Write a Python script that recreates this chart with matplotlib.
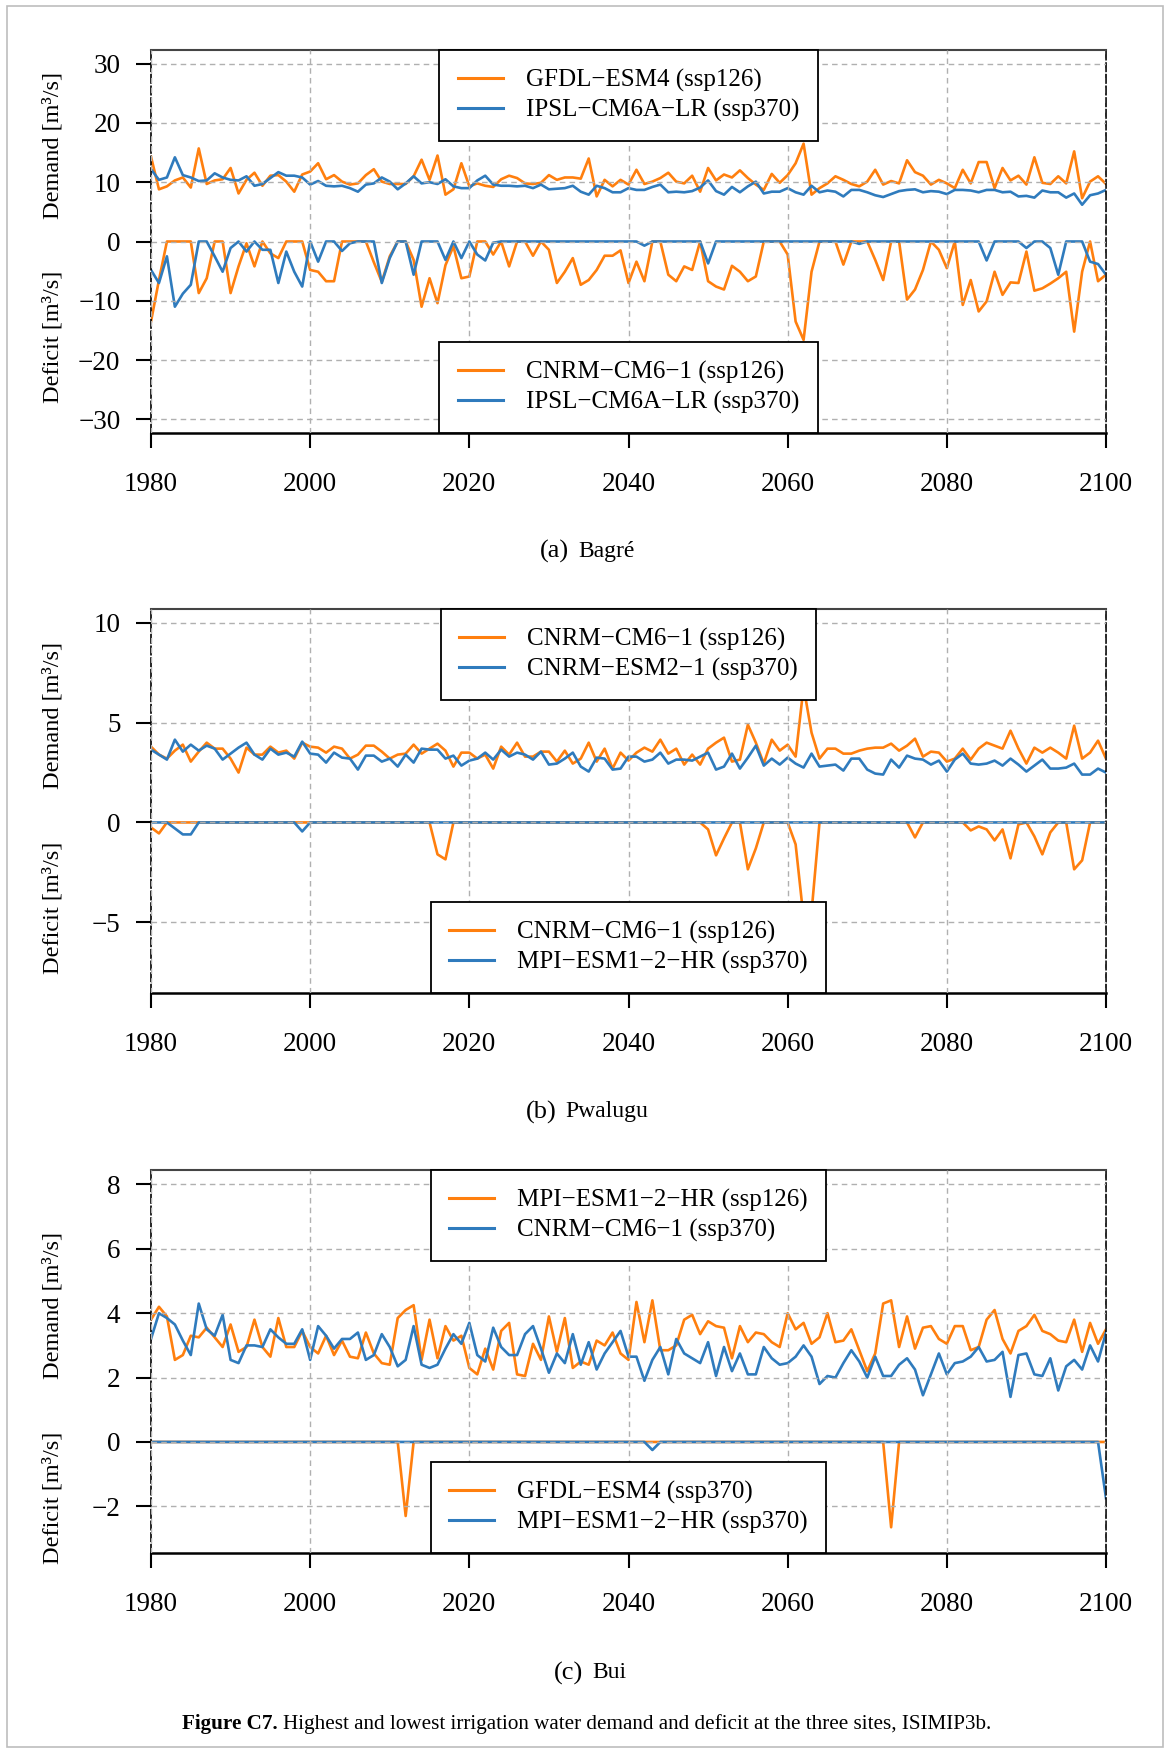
import matplotlib
matplotlib.use("Agg")
import matplotlib.pyplot as plt
import numpy as np
from matplotlib.transforms import blended_transform_factory
from matplotlib.lines import Line2D
from matplotlib.patches import Rectangle

plt.rcParams['font.family'] = ['Liberation Serif', 'DejaVu Serif']

years = np.arange(1980, 2101)

# (a) Bagre
bagre_dem_hi = [14.3, 8.8, 9.3, 10.3, 10.8, 9.1, 15.7, 9.7, 10.3, 10.5,
                12.4, 8.1, 10.4, 11.6, 9.4, 11.1, 11.2, 10.1, 8.4, 11.3,
                11.8, 13.2, 10.5, 11.2, 10.1, 9.6, 9.8, 11.2, 12.2, 10.1,
                9.7, 9.7, 9.7, 11.0, 13.8, 10.4, 14.5, 7.9, 8.8, 13.2,
                9.3, 9.8, 9.4, 9.2, 10.5, 11.1, 10.7, 9.8, 9.7, 9.9,
                11.2, 10.4, 10.8, 10.8, 10.6, 14.0, 7.6, 10.4, 9.3, 10.4,
                9.6, 12.1, 9.7, 10.1, 10.7, 11.6, 10.1, 9.8, 11.1, 8.4,
                12.4, 10.3, 11.3, 10.8, 12.0, 10.7, 9.6, 8.7, 11.4, 9.9,
                11.2, 13.2, 16.5, 7.9, 9.0, 9.8, 11.0, 10.4, 9.7, 9.3,
                10.1, 12.1, 9.6, 10.2, 9.8, 13.7, 11.7, 11.1, 9.6, 10.4,
                9.8, 9.0, 12.1, 9.8, 13.4, 13.4, 9.0, 12.4, 10.3, 11.1,
                9.6, 14.2, 9.9, 9.7, 11.0, 9.8, 15.2, 7.3, 10.1, 11.0,
                9.7]
bagre_dem_lo = [12.2, 10.4, 10.8, 14.2, 11.2, 10.8, 10.2, 10.3, 11.5, 10.8,
                10.4, 10.3, 11.0, 9.4, 9.7, 10.7, 11.7, 11.1, 11.1, 10.8,
                9.6, 10.2, 9.4, 9.3, 9.4, 9.0, 8.4, 9.6, 9.8, 10.8,
                10.1, 8.8, 9.8, 11.0, 9.8, 10.0, 9.7, 10.5, 9.3, 9.0,
                9.0, 10.3, 11.1, 9.6, 9.4, 9.4, 9.3, 9.4, 9.0, 9.6,
                8.8, 8.9, 9.0, 9.4, 8.4, 7.9, 9.4, 9.0, 8.3, 8.3,
                9.0, 8.7, 8.7, 9.2, 9.6, 8.3, 8.4, 8.3, 8.5, 9.1,
                10.3, 8.5, 7.9, 9.2, 8.3, 9.3, 10.1, 8.1, 8.4, 8.4,
                9.0, 8.3, 7.9, 9.4, 8.3, 8.6, 8.4, 7.6, 8.7, 8.7,
                8.3, 7.8, 7.5, 8.0, 8.5, 8.7, 8.8, 8.3, 8.5, 8.4,
                8.0, 8.7, 8.7, 8.6, 8.3, 8.7, 8.7, 8.3, 8.4, 7.6,
                7.7, 7.4, 8.6, 8.3, 8.3, 7.4, 8.1, 6.2, 7.8, 8.1,
                8.7]
bagre_def_hi = [-13.5, -6.5, 0, 0, 0, 0, -8.7, -6.2, 0, 0,
                -8.7, -4.2, -0.3, -4.2, 0, -2.0, -2.8, 0, 0, 0,
                -4.8, -5.1, -6.7, -6.7, 0, 0, 0, 0, -3.5, -6.8,
                -2.5, 0, 0, -3.1, -11.0, -6.2, -10.4, -4.0, -0.8, -6.2,
                -5.9, 0, 0, -2.2, 0, -4.2, 0, 0, -2.4, 0,
                -1.4, -7.0, -5.1, -2.8, -7.3, -6.5, -4.8, -2.4, -2.4, -1.5,
                -7.0, -3.4, -6.7, 0, 0, -5.6, -6.7, -4.2, -4.8, 0,
                -6.7, -7.6, -8.1, -4.1, -5.1, -6.7, -5.9, 0, 0, 0,
                -2.2, -13.5, -16.6, -5.1, 0, 0, 0, -3.9, 0, 0,
                0, -3.1, -6.5, 0, 0, -9.8, -8.1, -4.8, 0, -1.4,
                -4.5, 0, -10.7, -6.5, -11.8, -10.1, -5.1, -9.0, -6.9, -7.0,
                -1.7, -8.3, -7.9, -7.1, -6.2, -5.1, -15.2, -5.1, 0, -6.7,
                -5.6]
bagre_def_lo = [-4.8, -7.0, -2.5, -11.0, -8.8, -7.3, 0, 0, -2.5, -5.1,
                -1.1, 0, -1.7, 0, -1.4, -1.4, -7.0, -1.7, -5.1, -7.6,
                0, -3.4, 0, 0, -1.6, -0.3, 0, 0, 0, -7.0,
                -2.8, 0, 0, -5.6, 0, 0, 0, -3.1, 0, -2.8,
                0, -2.2, -3.2, -0.2, 0, 0, 0, 0, 0, 0,
                0, 0, 0, 0, 0, 0, 0, 0, 0, 0,
                0, 0, -0.7, 0, 0, 0, 0, 0, 0, 0,
                -3.7, 0, 0, 0, 0, 0, 0, 0, 0, 0,
                0, 0, 0, 0, 0, 0, 0, 0, 0, -0.4,
                0, 0, 0, 0, 0, 0, 0, 0, 0, 0,
                0, 0, 0, 0, 0, -3.2, 0, 0, 0, 0,
                -1.1, 0, 0, -1.1, -5.6, 0, 0, 0, -3.4, -3.8,
                -5.6]

# (b) Pwalugu
pwal_dem_hi = [3.8, 3.4, 3.2, 3.6, 3.9, 3.05, 3.55, 4.0, 3.7, 3.7,
               3.2, 2.5, 3.75, 3.4, 3.4, 3.8, 3.5, 3.6, 3.2, 4.0,
               3.8, 3.75, 3.5, 3.8, 3.7, 3.2, 3.4, 3.85, 3.85, 3.55,
               3.2, 3.4, 3.45, 3.9, 3.45, 3.7, 3.95, 3.6, 2.8, 3.5,
               3.5, 3.2, 3.4, 2.7, 3.8, 3.4, 4.0, 3.3, 3.3, 3.55,
               3.55, 3.05, 3.6, 2.95, 3.2, 4.0, 3.05, 3.7, 2.7, 3.5,
               3.1, 3.5, 3.75, 3.55, 4.15, 3.45, 3.7, 2.9, 3.4, 2.9,
               3.7, 4.0, 4.25, 3.05, 3.15, 4.9, 4.0, 2.95, 4.15, 3.6,
               3.9, 3.3, 6.8, 4.5, 3.2, 3.7, 3.7, 3.45, 3.45, 3.6,
               3.7, 3.75, 3.75, 3.95, 3.6, 3.85, 4.2, 3.3, 3.55, 3.5,
               3.05, 3.2, 3.7, 3.15, 3.7, 4.0, 3.85, 3.7, 4.6, 3.7,
               2.95, 3.75, 3.5, 3.75, 3.5, 3.2, 4.85, 3.2, 3.5, 4.1,
               3.2]
pwal_dem_lo = [3.65, 3.4, 3.15, 4.15, 3.55, 3.9, 3.6, 3.85, 3.7, 3.15,
               3.45, 3.75, 4.0, 3.4, 3.15, 3.7, 3.4, 3.5, 3.3, 4.05,
               3.45, 3.4, 3.0, 3.5, 3.25, 3.2, 2.65, 3.35, 3.35, 3.05,
               3.2, 2.8, 3.4, 3.0, 3.7, 3.65, 3.65, 3.2, 3.35, 2.85,
               3.1, 3.2, 3.5, 3.15, 3.65, 3.3, 3.5, 3.4, 3.15, 3.55,
               2.9, 2.95, 3.2, 3.5, 2.8, 2.55, 3.25, 3.2, 2.65, 2.7,
               3.3, 3.3, 3.05, 3.15, 3.5, 2.95, 3.15, 3.15, 3.1, 3.3,
               3.5, 2.65, 2.8, 3.45, 2.7, 3.25, 3.85, 2.85, 3.2, 2.9,
               3.25, 2.95, 2.75, 3.45, 2.8, 2.85, 2.9, 2.6, 3.2, 3.2,
               2.65, 2.45, 2.4, 3.15, 2.75, 3.35, 3.2, 3.15, 2.9, 3.1,
               2.55, 3.15, 3.45, 2.95, 2.9, 2.95, 3.1, 2.85, 3.2, 2.9,
               2.55, 2.85, 3.15, 2.7, 2.7, 2.75, 2.95, 2.4, 2.4, 2.7,
               2.5]
pwal_def_hi = [-0.25, -0.55, 0, 0, 0, 0, 0, 0, 0, 0,
               0, 0, 0, 0, 0, 0, 0, 0, 0, 0,
               0, 0, 0, 0, 0, 0, 0, 0, 0, 0,
               0, 0, 0, 0, 0, 0, -1.6, -1.85, 0, 0,
               0, 0, 0, 0, 0, 0, 0, 0, 0, 0,
               0, 0, 0, 0, 0, 0, 0, 0, 0, 0,
               0, 0, 0, 0, 0, 0, 0, 0, 0, 0,
               -0.35, -1.65, -0.8, 0, 0, -2.35, -1.3, 0, 0, 0,
               0, -1.1, -4.8, -4.5, 0, 0, 0, 0, 0, 0,
               0, 0, 0, 0, 0, 0, -0.75, 0, 0, 0,
               0, 0, 0, -0.4, -0.2, -0.35, -0.9, -0.35, -1.8, -0.1,
               0, -0.7, -1.6, -0.5, 0, 0, -2.35, -1.9, 0, 0,
               0]
pwal_def_lo = [0, 0, 0, -0.3, -0.6, -0.6, 0, 0, 0, 0,
               0, 0, 0, 0, 0, 0, 0, 0, 0, -0.45,
               0, 0, 0, 0, 0, 0, 0, 0, 0, 0,
               0, 0, 0, 0, 0, 0, 0, 0, 0, 0,
               0, 0, 0, 0, 0, 0, 0, 0, 0, 0,
               0, 0, 0, 0, 0, 0, 0, 0, 0, 0,
               0, 0, 0, 0, 0, 0, 0, 0, 0, 0,
               0, 0, 0, 0, 0, 0, 0, 0, 0, 0,
               0, 0, 0, 0, 0, 0, 0, 0, 0, 0,
               0, 0, 0, 0, 0, 0, 0, 0, 0, 0,
               0, 0, 0, 0, 0, 0, 0, 0, 0, 0,
               0, 0, 0, 0, 0, 0, 0, 0, 0, 0,
               0]

# (c) Bui
bui_dem_hi = [3.8, 4.2, 3.9, 2.55, 2.7, 3.3, 3.25, 3.55, 3.25, 2.95,
              3.65, 2.8, 2.95, 3.8, 2.95, 2.65, 3.85, 2.95, 2.95, 3.45,
              2.95, 2.75, 3.3, 2.7, 3.15, 2.65, 2.6, 3.4, 2.75, 2.45,
              2.4, 3.85, 4.1, 4.25, 2.55, 3.8, 2.6, 3.6, 3.15, 3.3,
              2.3, 2.1, 2.9, 2.25, 3.45, 3.7, 2.1, 2.05, 3.05, 2.55,
              3.9, 2.8, 3.85, 2.3, 2.5, 2.4, 3.15, 3.0, 3.4, 2.75,
              2.55, 4.35, 3.1, 4.4, 2.85, 2.85, 3.0, 3.8, 3.95, 3.35,
              3.75, 3.6, 3.55, 2.6, 3.6, 3.1, 3.4, 3.35, 3.1, 2.95,
              4.0, 3.5, 3.7, 3.05, 3.25, 4.0, 3.1, 3.15, 3.5, 2.85,
              2.2, 2.75, 4.3, 4.4, 2.95, 3.9, 2.9, 3.55, 3.6, 3.2,
              3.05, 3.6, 3.6, 2.85, 2.95, 3.8, 4.1, 3.2, 2.75, 3.45,
              3.6, 3.95, 3.45, 3.35, 3.15, 3.1, 3.8, 2.8, 3.7, 3.05,
              3.5]
bui_dem_lo = [3.2, 4.0, 3.85, 3.65, 3.15, 2.7, 4.3, 3.5, 3.3, 3.95,
              2.55, 2.45, 3.0, 3.0, 2.95, 3.5, 3.25, 3.05, 3.05, 3.5,
              2.55, 3.6, 3.3, 2.9, 3.2, 3.2, 3.4, 2.55, 2.7, 3.35,
              2.95, 2.35, 2.55, 3.6, 2.4, 2.3, 2.4, 2.9, 3.35, 3.05,
              3.7, 2.7, 2.5, 3.55, 2.95, 2.7, 2.7, 3.35, 3.6, 2.9,
              2.15, 2.75, 2.45, 3.35, 2.4, 3.1, 2.25, 2.75, 3.1, 3.45,
              2.65, 2.65, 1.9, 2.55, 2.95, 2.1, 3.2, 2.75, 2.6, 2.45,
              3.1, 2.05, 2.95, 2.2, 2.75, 2.1, 2.1, 2.95, 2.6, 2.4,
              2.45, 2.65, 3.0, 2.65, 1.8, 2.05, 2.0, 2.45, 2.85, 2.5,
              2.0, 2.65, 2.05, 2.05, 2.4, 2.6, 2.25, 1.45, 2.1, 2.75,
              2.1, 2.45, 2.5, 2.65, 2.95, 2.5, 2.55, 2.8, 1.4, 2.7,
              2.75, 2.1, 2.05, 2.6, 1.6, 2.35, 2.55, 2.25, 3.0, 2.5,
              3.4]
bui_def_hi = [0] * 121
bui_def_hi[2012 - 1980] = -2.3
bui_def_hi[2073 - 1980] = -2.65
bui_def_lo = [0] * 121
bui_def_lo[2043 - 1980] = -0.25
bui_def_lo[2100 - 1980] = -1.75

M = '\u2212'
panels = [
    dict(dem=(bagre_dem_hi, bagre_dem_lo), dfc=(bagre_def_hi, bagre_def_lo),
         dem_labels=(f'GFDL{M}ESM4 (ssp126)', f'IPSL{M}CM6A{M}LR (ssp370)'),
         def_labels=(f'CNRM{M}CM6{M}1 (ssp126)', f'IPSL{M}CM6A{M}LR (ssp370)'),
         ylim=(-32.3, 32.3), yticks=[-30, -20, -10, 0, 10, 20, 30],
         tag='(a)', site='Bagré'),
    dict(dem=(pwal_dem_hi, pwal_dem_lo), dfc=(pwal_def_hi, pwal_def_lo),
         dem_labels=(f'CNRM{M}CM6{M}1 (ssp126)', f'CNRM{M}ESM2{M}1 (ssp370)'),
         def_labels=(f'CNRM{M}CM6{M}1 (ssp126)', f'MPI{M}ESM1{M}2{M}HR (ssp370)'),
         ylim=(-8.55, 10.7), yticks=[-5, 0, 5, 10],
         tag='(b)', site='Pwalugu'),
    dict(dem=(bui_dem_hi, bui_dem_lo), dfc=(bui_def_hi, bui_def_lo),
         dem_labels=(f'MPI{M}ESM1{M}2{M}HR (ssp126)', f'CNRM{M}CM6{M}1 (ssp370)'),
         def_labels=(f'GFDL{M}ESM4 (ssp370)', f'MPI{M}ESM1{M}2{M}HR (ssp370)'),
         ylim=(-3.45, 8.45), yticks=[-2, 0, 2, 4, 6, 8],
         tag='(c)', site='Bui'),
]

W, H = 1172, 1755
fig = plt.figure(figsize=(W / 100, H / 100), dpi=100)

ORANGE = '#ff7f0e'
BLUE = '#2f7bbd'
axes_px = [(50, 433), (609, 993), (1170, 1553)]   # top, bottom of each axes in pixels
sub_px = [(551, 574), (1112, 561), (1673, 588)]     # subcaption y, split x

for p, (top, bot), (sy, sx) in zip(panels, axes_px, sub_px):
    ax = fig.add_axes([151 / W, 1 - bot / H, 955 / W, (bot - top) / H])
    ax.plot(years, p['dfc'][0], color=ORANGE, lw=1.9)
    ax.plot(years, p['dfc'][1], color=BLUE, lw=1.9)
    ax.plot(years, p['dem'][0], color=ORANGE, lw=1.9)
    ax.plot(years, p['dem'][1], color=BLUE, lw=1.9)

    ax.set_xlim(1980, 2100)
    ax.set_ylim(*p['ylim'])
    ax.set_xticks(range(1980, 2101, 20))
    ax.set_yticks(p['yticks'])
    ax.set_axisbelow(False)
    ax.grid(True, color='#b0b0b0', linestyle=(0, (4, 3)), linewidth=1.0)

    ax.spines['top'].set_color('#444444')
    ax.spines['top'].set_linewidth(1.5)
    ax.spines['bottom'].set_linewidth(1.8)
    for s in ('left', 'right'):
        ax.spines[s].set_linestyle((0, (5, 2)))
        ax.spines[s].set_linewidth(1.2)
    ax.tick_params(axis='both', direction='out', length=11, width=1.5,
                   labelsize=19.5, colors='black')
    ax.tick_params(axis='x', pad=17)
    ax.tick_params(axis='y', pad=11)

    handles = [Line2D([], [], color=ORANGE, lw=2.2), Line2D([], [], color=BLUE, lw=2.2)]
    leg_kw = dict(fontsize=18, fancybox=False, framealpha=1, edgecolor='black',
                  borderaxespad=0, handlelength=1.8, handletextpad=0.9,
                  labelspacing=0.28, borderpad=0.75)
    leg1 = ax.legend(handles, p['dem_labels'], loc='upper center', **leg_kw)
    leg1.get_frame().set_linewidth(1.3)
    ax.add_artist(leg1)
    leg2 = ax.legend(handles, p['def_labels'], loc='lower center', **leg_kw)
    leg2.get_frame().set_linewidth(1.3)

    ylo, yhi = p['ylim']
    tr = blended_transform_factory(fig.transFigure, ax.transData)
    ax.text(53 / W, yhi / 2, 'Demand [m³/s]', transform=tr, rotation=90,
            ha='center', va='center', fontsize=17.5)
    ax.text(53 / W, ylo / 2, 'Deficit [m³/s]', transform=tr, rotation=90,
            ha='center', va='center', fontsize=17.5)

    fig.text(sx / W - 0.004, 1 - sy / H, p['tag'], ha='right', va='center', fontsize=19)
    fig.text(sx / W + 0.004, 1 - sy / H, p['site'], ha='left', va='center', fontsize=17)

cap = fig.text(182 / W, 1 - 1729 / H, 'Figure C7.', fontweight='bold',
               fontsize=15.2, va='baseline', ha='left')
ax.annotate('Highest and lowest irrigation water demand and deficit at the three sites, ISIMIP3b.',
            xy=(1, 0), xycoords=cap, xytext=(4, 0), textcoords='offset points',
            va='bottom', ha='left', fontsize=15.2, annotation_clip=False)

fig.add_artist(Rectangle((7 / W, 1 - 1747 / H), 1156 / W, 1741 / H, transform=fig.transFigure,
                         fill=False, edgecolor='#bdbdbd', lw=1.2))

fig.savefig('out.png', dpi=100)
